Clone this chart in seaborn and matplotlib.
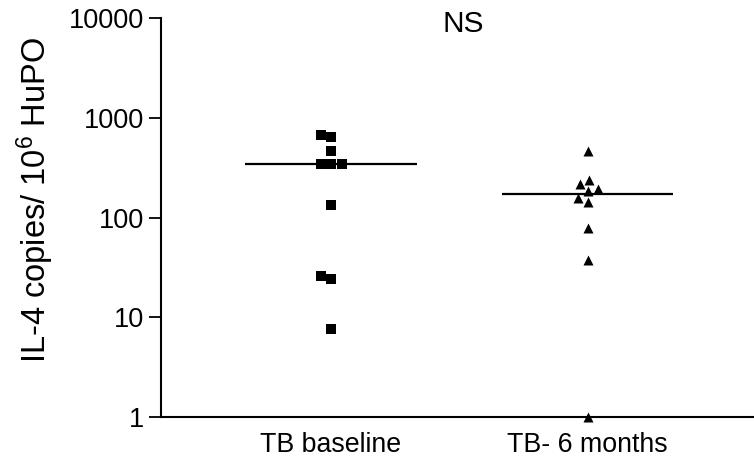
import matplotlib
matplotlib.use("Agg")
import matplotlib.pyplot as plt
import seaborn as sns
import pandas as pd
import numpy as np
from matplotlib.ticker import FixedLocator, FixedFormatter, NullLocator

categories = ["TB baseline", "TB- 6 months"]
baseline_values = [673, 639, 469, 345, 345, 345, 134, 26.1, 24.2, 7.6]
month6_values = [469, 238, 216, 194, 186, 156, 142, 78, 37.6, 1.0]
ytick_values = [1, 10, 100, 1000, 10000]
ytick_labels = ["1", "10", "100", "1000", "10000"]
title_text = "NS"
ylabel_text = r"IL-4 copies/ 10$^{6}$ HuPO"

sns.set_theme(style="ticks")
plt.rcParams["font.family"] = ["Liberation Sans", "DejaVu Sans"]
plt.rcParams["mathtext.default"] = "regular"

df = pd.DataFrame({
    "group": [categories[0]] * len(baseline_values) + [categories[1]] * len(month6_values),
    "value": baseline_values + month6_values,
})

fig = plt.figure(figsize=(7.54, 4.61), dpi=100)
ax = fig.add_axes([160.7 / 754, 1 - 417 / 461, (753 - 160.7) / 754, (417 - 18) / 461])
ax.set_yscale("log")

markers = ["s", "^"]
for cat, mk in zip(categories, markers):
    sub = df[df["group"] == cat]
    sns.swarmplot(data=sub, x="group", y="value", order=categories, marker=mk,
                  color="black", size=7.2, linewidth=0, ax=ax, clip_on=False)

medians = df.groupby("group")["value"].median()
for i, cat in enumerate(categories):
    ax.hlines(medians[cat], i - 0.335, i + 0.335, color="black", lw=1.6, zorder=1)

ax.set_xlim(-0.664, 1.645)
ax.set_ylim(1, 10000)
ax.yaxis.set_major_locator(FixedLocator(ytick_values))
ax.yaxis.set_major_formatter(FixedFormatter(ytick_labels))
ax.yaxis.set_minor_locator(NullLocator())
ax.tick_params(axis="y", length=8.6, width=1.3, labelsize=19.5, pad=3.6, colors="black")
ax.tick_params(axis="x", length=0, labelsize=19.3, pad=11, colors="black")
ax.set_xlabel("")
ax.set_ylabel(ylabel_text, fontsize=23.5, color="black")
ax.yaxis.set_label_coords(-0.176, 0.544)
for sp in ["top", "right"]:
    ax.spines[sp].set_visible(False)
for sp in ["left", "bottom"]:
    ax.spines[sp].set_linewidth(1.5)
    ax.spines[sp].set_color("black")
fig.text(463 / 754, 1 - 24 / 461, title_text, fontsize=21.5, ha="center", va="center", color="black")
for c in ax.collections:
    c.set_clip_on(False)

fig.savefig("out.png", dpi=100)
